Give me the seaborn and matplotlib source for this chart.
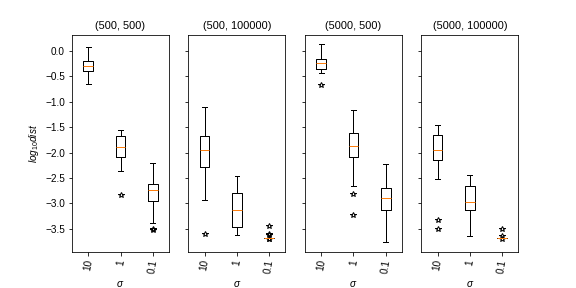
import pandas as pd
import matplotlib
matplotlib.use("Agg")
import matplotlib.pyplot as plt
import seaborn as sns

plt.rcParams['font.family'] = ['Liberation Sans', 'DejaVu Sans']
plt.rcParams['mathtext.fontset'] = 'custom'
plt.rcParams['mathtext.rm'] = 'Liberation Sans'
plt.rcParams['mathtext.it'] = 'Liberation Sans:italic'

# (n, m) settings and sigma values
titles = ['(500, 500)', '(500, 100000)', '(5000, 500)', '(5000, 100000)']
sigmas = ['10', '1', '0.1']

# log10 distance of each run
d_500_500 = {
    '10': [-0.64, -0.40, -0.29, -0.20, 0.08],
    '1': [-2.83, -2.37, -2.08, -1.95, -1.89, -1.78, -1.68, -1.62, -1.56],
    '0.1': [-3.52, -3.50, -3.38, -2.95, -2.88, -2.80, -2.74, -2.70, -2.66, -2.62, -2.50, -2.35, -2.21],
}
d_500_100000 = {
    '10': [-3.61, -2.93, -2.28, -2.10, -1.95, -1.80, -1.68, -1.40, -1.10],
    '1': [-3.62, -3.46, -3.13, -2.80, -2.46],
    '0.1': [-3.69, -3.69, -3.68, -3.68, -3.68, -3.68, -3.68, -3.68, -3.68, -3.68, -3.62, -3.60, -3.44],
}
d_5000_500 = {
    '10': [-0.67, -0.44, -0.35, -0.28, -0.23, -0.19, -0.15, -0.05, 0.13],
    '1': [-3.22, -2.82, -2.66, -2.08, -2.00, -1.93, -1.87, -1.80, -1.70, -1.62, -1.45, -1.30, -1.16],
    '0.1': [-3.76, -3.13, -2.89, -2.69, -2.22],
}
d_5000_100000 = {
    '10': [-3.50, -3.32, -2.52, -2.14, -2.05, -2.00, -1.95, -1.85, -1.75, -1.66, -1.60, -1.52, -1.45],
    '1': [-3.64, -3.13, -2.97, -2.66, -2.44],
    '0.1': [-3.70, -3.68, -3.68, -3.68, -3.68, -3.68, -3.68, -3.68, -3.68, -3.68, -3.68, -3.64, -3.50],
}
panels = [d_500_500, d_500_100000, d_5000_500, d_5000_100000]

fig, axes = plt.subplots(1, 4, figsize=(8, 4), dpi=72, sharey=True)
fig.subplots_adjust(bottom=0.125, top=0.88)

for ax, title, d in zip(axes, titles, panels):
    df = pd.DataFrame([(s, v) for s in sigmas for v in d[s]], columns=['sigma', 'dist'])
    sns.boxplot(data=df, x='sigma', y='dist', order=sigmas, ax=ax,
                fill=False, color='black', width=0.3, linewidth=1,
                medianprops=dict(color='C1'),
                flierprops=dict(marker='*', markerfacecolor='none',
                                markeredgecolor='black', markersize=6))
    ax.set_title(title, fontsize=11)
    ax.set_xlabel(r'$\sigma$')
    ax.set_ylabel('')
    ax.tick_params(axis='x', labelrotation=80)
    ax.set_xlim(-0.5, 2.5)

axes[0].set_ylabel(r'$log_{10}dist$')

plt.savefig('out.png', dpi=72)
